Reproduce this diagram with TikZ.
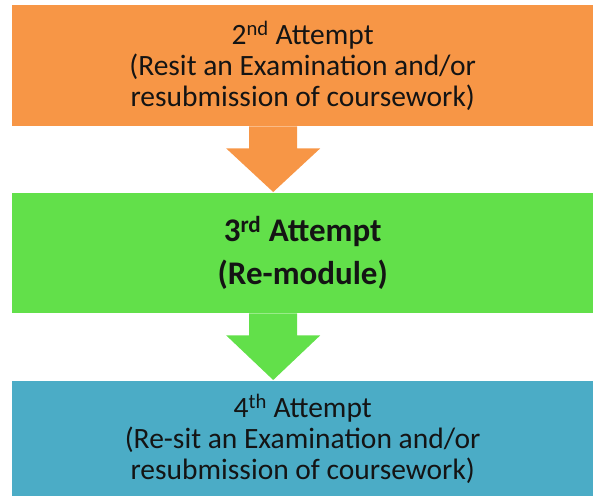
\documentclass[tikz,border=0pt]{standalone}
\usepackage{fontspec}
\setmainfont{Carlito}
\usepackage{xcolor}
\usetikzlibrary{positioning}
\usetikzlibrary{calc}
\definecolor{attorange}{HTML}{F79646}
\definecolor{attgreen}{HTML}{62E04A}
\definecolor{attblue}{HTML}{4BACC6}
\tikzstyle{stage}=[rectangle,draw=none,anchor=north west,minimum width=581pt,inner sep=0pt,align=center,text=black!92,font=\fontsize{29.5}{31}\selectfont]
\tikzstyle{blockarrow}=[draw=none]

\begin{document}
\begin{tikzpicture}[x=1pt,y=-1pt]

  \useasboundingbox (0,0) rectangle (593,496);

  \foreach \x/\y/\h/\name/\col/\label in {12/5/121/second/attorange/{2\textsuperscript{nd} Attempt\\(Resit an Examination and/or\\resubmission of coursework)},
                                          12/381/115/fourth/attblue/{4\textsuperscript{th} Attempt\\(Re-sit an Examination and/or\\resubmission of coursework)}}
          \node[stage,fill=\col,minimum height=\h pt] (\name) at (\x,\y) {\label};

  \node[stage,fill=attgreen,minimum height=120pt,font=\fontsize{33}{31}\selectfont\bfseries] (third) at (12,193) {3\textsuperscript{rd} Attempt\\[12pt](Re-module)};

  \foreach \source/\dest/\col in {second/third/attorange, third/fourth/attgreen}
         \fill[blockarrow,\col] ($(\source.south)+(-53.5,0)$) -- ($(\source.south)+(-5.5,0)$)
            -- ($(\source.south)+(-5.5,22)$) -- ($(\source.south)+(17.5,22)$)
            -- ($(\dest.north)+(-29.5,-1)$)
            -- ($(\source.south)+(-76.5,22)$) -- ($(\source.south)+(-53.5,22)$) -- cycle;

\end{tikzpicture}
\end{document}
